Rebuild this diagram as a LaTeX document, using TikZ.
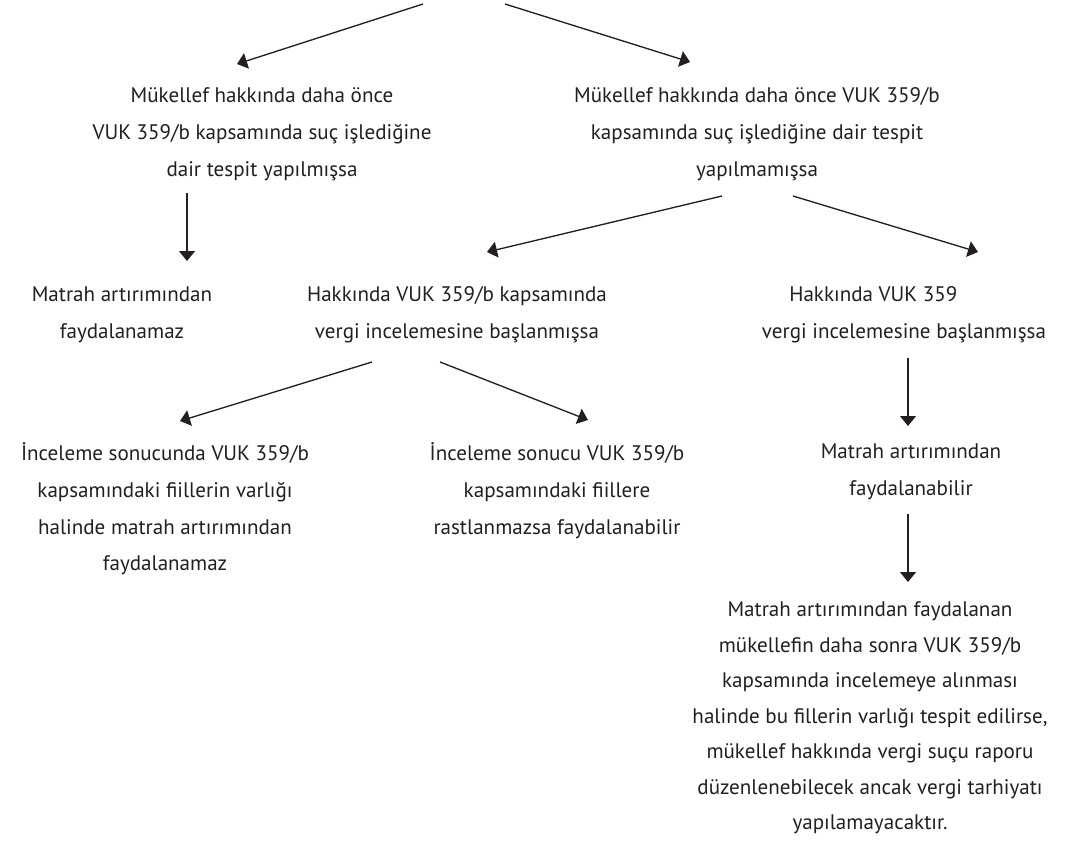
\documentclass[tikz,border=0pt]{standalone}
\usepackage{fontspec}
\setmainfont{PT Sans}
\usepackage{tikz}
\usetikzlibrary{arrows.meta}
\definecolor{ink}{HTML}{231F20}

\tikzset{
  txt/.style={align=center,text=ink,inner sep=0pt,font=\fontsize{15.8}{27.6}\selectfont},
  txtH/.style={txt,font=\fontsize{15.8}{26.6}\selectfont},
  arr/.style={draw=ink,line width=1pt,-{Triangle[width=12pt,length=7.5pt]}}
}

\begin{document}
\begin{tikzpicture}[x=0.75pt,y=-0.75pt]
\useasboundingbox (0,0) rectangle (1066,843);
\coordinate (srcL) at (423,4);
\coordinate (srcR) at (505,4);
\node[txt] (yap) at (262,134) {Mükellef hakkında daha önce\\VUK 359/b kapsamında suç işlediğine\\dair tespit yapılmışsa};
\node[txt] (yapma) at (757,134) {Mükellef hakkında daha önce VUK 359/b\\kapsamında suç işlediğine dair tespit\\yapılmamışsa};
\node[txt] (olmaz) at (122,315) {Matrah artırımından\\faydalanamaz};
\node[txt] (incb) at (457,315) {Hakkında VUK 359/b kapsamında\\vergi incelemesine başlanmışsa};
\node[txt] (inc) at (904,315) {Hakkında VUK 359\hspace*{46pt}\\vergi incelemesine başlanmışsa};
\node[txt] (varlik) at (165,509) {İnceleme sonucunda VUK 359/b\\kapsamındaki fiillerin varlığı\\halinde matrah artırımından\\faydalanamaz};
\node[txt] (yok) at (557,491) {İnceleme sonucu VUK 359/b\\kapsamındaki fiillere\\rastlanmazsa faydalanabilir};
\node[txt] (olur) at (911,472) {Matrah artırımından\\faydalanabilir};
\node[txtH] (sonra) at (870,718) {Matrah artırımından faydalanan\\mükellefin daha sonra VUK 359/b\\kapsamında incelemeye alınması\\halinde bu fillerin varlığı tespit edilirse,\\mükellef hakkında vergi suçu raporu\\düzenlenebilecek ancak vergi tarhiyatı\\yapılamayacaktır.};
\draw[arr] (srcL) -- ([shift={(-25,-70)}]yap.center);
\draw[arr] (srcR) -- ([shift={(-67,-72)}]yapma.center);
\draw[arr] ([shift={(-75,59)}]yap.center) -- ([shift={(65,-54)}]olmaz.center);
\draw[arr] ([shift={(-35,62)}]yapma.center) -- ([shift={(30,-63)}]incb.center);
\draw[arr] ([shift={(36,62)}]yapma.center) -- ([shift={(74,-63)}]inc.center);
\draw[arr] ([shift={(-85,47)}]incb.center) -- ([shift={(15,-88)}]varlik.center);
\draw[arr] ([shift={(-17,47)}]incb.center) -- ([shift={(31,-71)}]yok.center);
\draw[arr] ([shift={(4,43)}]inc.center) -- ([shift={(-3,-46)}]olur.center);
\draw[arr] ([shift={(-3,42)}]olur.center) -- ([shift={(38,-136)}]sonra.center);
\end{tikzpicture}
\end{document}
